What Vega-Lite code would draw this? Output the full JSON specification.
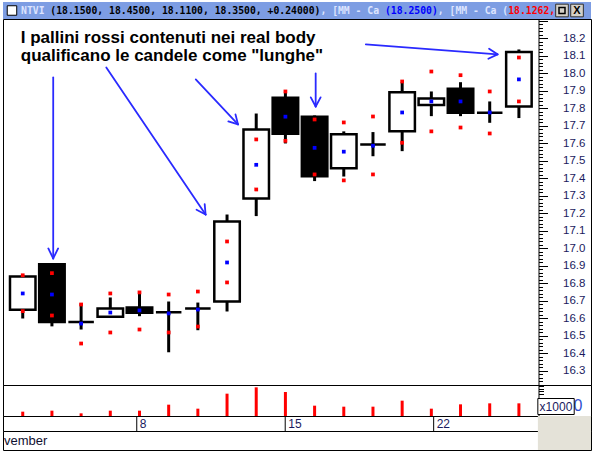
{
  "$schema": "https://vega.github.io/schema/vega-lite/v6.json",
  "background": "white",
  "padding": {"left": 2, "top": 2, "right": 10, "bottom": 15},
  "bounds": "flush",
  "spacing": 0,
  "resolve": {"scale": {"color": "independent"}},
  "config": {"view": {"stroke": "black", "strokeWidth": 1}, "font": "Liberation Sans", "axis": {"grid": false}},
  "datasets": {
    "bars": [
      {"day": 2, "i": 1, "o": 16.65, "h": 16.845, "l": 16.6, "c": 16.84, "up": 16.847, "mid": 16.743, "dn": 16.642, "vol": 130},
      {"day": 3, "i": 2, "o": 16.91, "h": 16.915, "l": 16.555, "c": 16.58, "up": 16.859, "mid": 16.737, "dn": 16.617, "vol": 160},
      {"day": 4, "i": 3, "o": 16.58, "h": 16.686, "l": 16.537, "c": 16.58, "up": 16.68, "mid": 16.571, "dn": 16.457, "vol": 80},
      {"day": 5, "i": 4, "o": 16.61, "h": 16.72, "l": 16.61, "c": 16.657, "up": 16.743, "mid": 16.634, "dn": 16.52, "vol": 160},
      {"day": 8, "i": 5, "o": 16.663, "h": 16.743, "l": 16.613, "c": 16.633, "up": 16.749, "mid": 16.646, "dn": 16.537, "vol": 160},
      {"day": 9, "i": 6, "o": 16.636, "h": 16.697, "l": 16.407, "c": 16.636, "up": 16.737, "mid": 16.629, "dn": 16.52, "vol": 340},
      {"day": 10, "i": 7, "o": 16.657, "h": 16.691, "l": 16.533, "c": 16.657, "up": 16.754, "mid": 16.651, "dn": 16.554, "vol": 220},
      {"day": 11, "i": 8, "o": 16.697, "h": 17.194, "l": 16.64, "c": 17.154, "up": 17.04, "mid": 16.92, "dn": 16.806, "vol": 670},
      {"day": 12, "i": 9, "o": 17.286, "h": 17.771, "l": 17.185, "c": 17.68, "up": 17.623, "mid": 17.478, "dn": 17.337, "vol": 860},
      {"day": 15, "i": 10, "o": 17.861, "h": 17.891, "l": 17.6, "c": 17.655, "up": 17.897, "mid": 17.753, "dn": 17.615, "vol": 720},
      {"day": 16, "i": 11, "o": 17.753, "h": 17.76, "l": 17.385, "c": 17.413, "up": 17.737, "mid": 17.575, "dn": 17.423, "vol": 310},
      {"day": 17, "i": 12, "o": 17.459, "h": 17.669, "l": 17.411, "c": 17.653, "up": 17.72, "mid": 17.553, "dn": 17.389, "vol": 280},
      {"day": 18, "i": 13, "o": 17.594, "h": 17.665, "l": 17.527, "c": 17.594, "up": 17.754, "mid": 17.587, "dn": 17.423, "vol": 280},
      {"day": 19, "i": 14, "o": 17.669, "h": 17.95, "l": 17.556, "c": 17.893, "up": 17.954, "mid": 17.777, "dn": 17.604, "vol": 460},
      {"day": 22, "i": 15, "o": 17.819, "h": 17.897, "l": 17.756, "c": 17.857, "up": 18.011, "mid": 17.84, "dn": 17.669, "vol": 220},
      {"day": 23, "i": 16, "o": 17.913, "h": 17.95, "l": 17.756, "c": 17.775, "up": 17.99, "mid": 17.84, "dn": 17.691, "vol": 350},
      {"day": 24, "i": 17, "o": 17.775, "h": 17.84, "l": 17.718, "c": 17.775, "up": 17.897, "mid": 17.777, "dn": 17.657, "vol": 380},
      {"day": 26, "i": 18, "o": 17.811, "h": 18.137, "l": 17.745, "c": 18.122, "up": 18.091, "mid": 17.966, "dn": 17.84, "vol": 380}
    ],
    "head": [
      {"s": "", "k": "name", "n": 0},
      {"s": "NTVI", "k": "name", "n": 5},
      {"s": "(18.1500, 18.4500, 18.1100, 18.3500, +0.24000)", "k": "val", "n": 46},
      {"s": ", [MM - Ca", "k": "name", "n": 11},
      {"s": "(18.2500)", "k": "ma1", "n": 9},
      {"s": ", [MM - Ca (", "k": "name", "n": 12},
      {"s": "18.1262, 1", "k": "ma2", "n": 10}
    ],
    "arrows": [
      {"a": "A", "i0": 2.044, "p0": 17.977, "i1": 2.044, "p1": 16.943},
      {"a": "A", "i0": 2.044, "p0": 16.943, "i1": 1.876, "p1": 17.0},
      {"a": "A", "i0": 2.044, "p0": 16.943, "i1": 2.2125, "p1": 17.0},
      {"a": "B", "i0": 3.863, "p0": 18.034, "i1": 7.265, "p1": 17.194},
      {"a": "B", "i0": 7.265, "p0": 17.194, "i1": 6.955, "p1": 17.221},
      {"a": "B", "i0": 7.265, "p0": 17.194, "i1": 7.234, "p1": 17.253},
      {"a": "C", "i0": 6.928, "p0": 17.966, "i1": 8.376, "p1": 17.709},
      {"a": "C", "i0": 8.376, "p0": 17.709, "i1": 8.045, "p1": 17.726},
      {"a": "C", "i0": 8.376, "p0": 17.709, "i1": 8.289, "p1": 17.766},
      {"a": "D", "i0": 11.037, "p0": 18.0, "i1": 11.037, "p1": 17.811},
      {"a": "D", "i0": 11.037, "p0": 17.811, "i1": 10.869, "p1": 17.863},
      {"a": "D", "i0": 11.037, "p0": 17.811, "i1": 11.206, "p1": 17.863},
      {"a": "E", "i0": 12.755, "p0": 18.166, "i1": 17.268, "p1": 18.109},
      {"a": "E", "i0": 17.268, "p0": 18.109, "i1": 16.953, "p1": 18.084},
      {"a": "E", "i0": 17.268, "p0": 18.109, "i1": 16.978, "p1": 18.141}
    ]
  },
  "vconcat": [
    {
      "width": 588,
      "height": 17,
      "view": {"fill": "#7d9de3", "stroke": null},
      "layer": [
        {
          "data": {"name": "head"},
          "transform": [{"window": [{"op": "sum", "field": "n", "as": "start"}], "frame": [null, -1]}],
          "mark": {"type": "text", "align": "left", "baseline": "middle", "font": "DejaVu Sans Mono", "fontWeight": "bold", "fontSize": 9.75},
          "encoding": {
            "x": {"field": "start", "type": "quantitative", "scale": {"domain": [-3.07, 97.1], "nice": false, "zero": false}, "axis": null},
            "text": {"field": "s"},
            "color": {"field": "k", "type": "nominal", "scale": {"domain": ["name", "val", "ma1", "ma2"], "range": ["#dce4ff", "#000000", "#0000ff", "#ff0000"]}, "legend": null}
          }
        },
        {
          "data": {"values": [{}]},
          "mark": {"type": "point", "shape": "square", "filled": true, "size": 90, "fill": "white", "stroke": "black", "strokeWidth": 1, "opacity": 1},
          "encoding": {"x": {"datum": -1.54, "type": "quantitative", "scale": {"domain": [-3.07, 97.1], "nice": false, "zero": false}, "axis": null}}
        },
        {
          "data": {"values": [{}]},
          "mark": {"type": "point", "shape": "square", "filled": true, "size": 160, "fill": "#d4d0c8", "stroke": "#303030", "strokeWidth": 1, "opacity": 1},
          "encoding": {"x": {"datum": 92.16, "type": "quantitative", "scale": {"domain": [-3.07, 97.1], "nice": false, "zero": false}, "axis": null}}
        },
        {
          "data": {"values": [{}]},
          "mark": {"type": "point", "shape": "square", "filled": true, "size": 160, "fill": "#d4d0c8", "stroke": "#303030", "strokeWidth": 1, "opacity": 1},
          "encoding": {"x": {"datum": 94.72, "type": "quantitative", "scale": {"domain": [-3.07, 97.1], "nice": false, "zero": false}, "axis": null}}
        },
        {
          "data": {"values": [{}]},
          "mark": {"type": "point", "shape": "square", "filled": false, "size": 36, "stroke": "black", "strokeWidth": 1.5, "opacity": 1},
          "encoding": {"x": {"datum": 92.16, "type": "quantitative", "scale": {"domain": [-3.07, 97.1], "nice": false, "zero": false}, "axis": null}}
        },
        {
          "data": {"values": [{}]},
          "mark": {"type": "text", "text": "X", "fontWeight": "bold", "fontSize": 11, "color": "black", "baseline": "middle", "align": "center"},
          "encoding": {"x": {"datum": 94.72, "type": "quantitative", "scale": {"domain": [-3.07, 97.1], "nice": false, "zero": false}, "axis": null}}
        }
      ]
    },
    {
      "width": 588,
      "height": 366,
      "data": {"name": "bars"},
      "layer": [
        {
          "mark": {"type": "rule", "strokeWidth": 3, "color": "black"},
          "encoding": {
            "x": {"field": "i", "type": "quantitative", "scale": {"domain": [0.495, 20.299], "nice": false, "zero": false}, "axis": null},
            "y": {"field": "l", "type": "quantitative", "scale": {"domain": [16.22, 18.311], "nice": false, "zero": false},
              "axis": {"orient": "right", "offset": -52.5, "title": null, "grid": false, "domainColor": "black", "tickColor": "black", "labelOverlap": false, "labelFlush": false,
                "values": [16.24,16.26,16.28,16.3,16.32,16.34,16.36,16.38,16.4,16.42,16.44,16.46,16.48,16.5,16.52,16.54,16.56,16.58,16.6,16.62,16.64,16.66,16.68,16.7,16.72,16.74,16.76,16.78,16.8,16.82,16.84,16.86,16.88,16.9,16.92,16.94,16.96,16.98,17,17.02,17.04,17.06,17.08,17.1,17.12,17.14,17.16,17.18,17.2,17.22,17.24,17.26,17.28,17.3,17.32,17.34,17.36,17.38,17.4,17.42,17.44,17.46,17.48,17.5,17.52,17.54,17.56,17.58,17.6,17.62,17.64,17.66,17.68,17.7,17.72,17.74,17.76,17.78,17.8,17.82,17.84,17.86,17.88,17.9,17.92,17.94,17.96,17.98,18,18.02,18.04,18.06,18.08,18.1,18.12,18.14,18.16,18.18,18.2,18.22,18.24,18.26,18.28,18.3],
                "labelExpr": "round(datum.value*100) % 10 == 0 && datum.value < 18.25 ? format(datum.value, '.1f') : ''",
                "tickSize": {"condition": {"test": "round(datum.value*100) % 10 == 0", "value": 9}, "value": 4},
                "labelPadding": 15, "labelFont": "Liberation Sans", "labelFontSize": 11.5, "labelColor": "#1a1a5e", "labelBaseline": "middle"}},
            "y2": {"field": "h"}
          }
        },
        {
          "mark": {"type": "bar", "size": 25.5, "stroke": "black", "strokeWidth": 2.5},
          "encoding": {
            "x": {"field": "i", "type": "quantitative", "scale": {"domain": [0.495, 20.299], "nice": false, "zero": false}, "axis": null},
            "y": {"field": "o", "type": "quantitative", "scale": {"domain": [16.22, 18.311], "nice": false, "zero": false},
              "axis": {"orient": "right", "offset": -52.5, "title": null, "grid": false, "domainColor": "black", "tickColor": "black", "labelOverlap": false, "labelFlush": false,
                "values": [16.24,16.26,16.28,16.3,16.32,16.34,16.36,16.38,16.4,16.42,16.44,16.46,16.48,16.5,16.52,16.54,16.56,16.58,16.6,16.62,16.64,16.66,16.68,16.7,16.72,16.74,16.76,16.78,16.8,16.82,16.84,16.86,16.88,16.9,16.92,16.94,16.96,16.98,17,17.02,17.04,17.06,17.08,17.1,17.12,17.14,17.16,17.18,17.2,17.22,17.24,17.26,17.28,17.3,17.32,17.34,17.36,17.38,17.4,17.42,17.44,17.46,17.48,17.5,17.52,17.54,17.56,17.58,17.6,17.62,17.64,17.66,17.68,17.7,17.72,17.74,17.76,17.78,17.8,17.82,17.84,17.86,17.88,17.9,17.92,17.94,17.96,17.98,18,18.02,18.04,18.06,18.08,18.1,18.12,18.14,18.16,18.18,18.2,18.22,18.24,18.26,18.28,18.3],
                "labelExpr": "round(datum.value*100) % 10 == 0 && datum.value < 18.25 ? format(datum.value, '.1f') : ''",
                "tickSize": {"condition": {"test": "round(datum.value*100) % 10 == 0", "value": 9}, "value": 4},
                "labelPadding": 15, "labelFont": "Liberation Sans", "labelFontSize": 11.5, "labelColor": "#1a1a5e", "labelBaseline": "middle"}},
            "y2": {"field": "c"},
            "fill": {"condition": {"test": "datum.c < datum.o", "value": "black"}, "value": "white"}
          }
        },
        {
          "transform": [{"fold": ["up", "mid", "dn"], "as": ["k", "v"]}],
          "mark": {"type": "point", "shape": "square", "filled": true, "size": 14, "opacity": 1},
          "encoding": {
            "x": {"field": "i", "type": "quantitative", "scale": {"domain": [0.495, 20.299], "nice": false, "zero": false}, "axis": null},
            "y": {"field": "v", "type": "quantitative", "scale": {"domain": [16.22, 18.311], "nice": false, "zero": false},
              "axis": {"orient": "right", "offset": -52.5, "title": null, "grid": false, "domainColor": "black", "tickColor": "black", "labelOverlap": false, "labelFlush": false,
                "values": [16.24,16.26,16.28,16.3,16.32,16.34,16.36,16.38,16.4,16.42,16.44,16.46,16.48,16.5,16.52,16.54,16.56,16.58,16.6,16.62,16.64,16.66,16.68,16.7,16.72,16.74,16.76,16.78,16.8,16.82,16.84,16.86,16.88,16.9,16.92,16.94,16.96,16.98,17,17.02,17.04,17.06,17.08,17.1,17.12,17.14,17.16,17.18,17.2,17.22,17.24,17.26,17.28,17.3,17.32,17.34,17.36,17.38,17.4,17.42,17.44,17.46,17.48,17.5,17.52,17.54,17.56,17.58,17.6,17.62,17.64,17.66,17.68,17.7,17.72,17.74,17.76,17.78,17.8,17.82,17.84,17.86,17.88,17.9,17.92,17.94,17.96,17.98,18,18.02,18.04,18.06,18.08,18.1,18.12,18.14,18.16,18.18,18.2,18.22,18.24,18.26,18.28,18.3],
                "labelExpr": "round(datum.value*100) % 10 == 0 && datum.value < 18.25 ? format(datum.value, '.1f') : ''",
                "tickSize": {"condition": {"test": "round(datum.value*100) % 10 == 0", "value": 9}, "value": 4},
                "labelPadding": 15, "labelFont": "Liberation Sans", "labelFontSize": 11.5, "labelColor": "#1a1a5e", "labelBaseline": "middle"}},
            "color": {"field": "k", "type": "nominal", "scale": {"domain": ["up", "mid", "dn"], "range": ["#ff0000", "#0000ff", "#ff0000"]}, "legend": null}
          }
        },
        {
          "data": {"values": [{"t": "I pallini rossi contenuti nei real body"}]},
          "mark": {"type": "text", "align": "left", "baseline": "alphabetic", "fontSize": 17, "fontWeight": "bold", "color": "black"},
          "encoding": {
            "x": {"datum": 0.933, "type": "quantitative", "scale": {"domain": [0.495, 20.299], "nice": false, "zero": false}, "axis": null},
            "y": {"datum": 18.176, "type": "quantitative", "scale": {"domain": [16.22, 18.311], "nice": false, "zero": false},
              "axis": {"orient": "right", "offset": -52.5, "title": null, "grid": false, "domainColor": "black", "tickColor": "black", "labelOverlap": false, "labelFlush": false,
                "values": [16.24,16.26,16.28,16.3,16.32,16.34,16.36,16.38,16.4,16.42,16.44,16.46,16.48,16.5,16.52,16.54,16.56,16.58,16.6,16.62,16.64,16.66,16.68,16.7,16.72,16.74,16.76,16.78,16.8,16.82,16.84,16.86,16.88,16.9,16.92,16.94,16.96,16.98,17,17.02,17.04,17.06,17.08,17.1,17.12,17.14,17.16,17.18,17.2,17.22,17.24,17.26,17.28,17.3,17.32,17.34,17.36,17.38,17.4,17.42,17.44,17.46,17.48,17.5,17.52,17.54,17.56,17.58,17.6,17.62,17.64,17.66,17.68,17.7,17.72,17.74,17.76,17.78,17.8,17.82,17.84,17.86,17.88,17.9,17.92,17.94,17.96,17.98,18,18.02,18.04,18.06,18.08,18.1,18.12,18.14,18.16,18.18,18.2,18.22,18.24,18.26,18.28,18.3],
                "labelExpr": "round(datum.value*100) % 10 == 0 && datum.value < 18.25 ? format(datum.value, '.1f') : ''",
                "tickSize": {"condition": {"test": "round(datum.value*100) % 10 == 0", "value": 9}, "value": 4},
                "labelPadding": 15, "labelFont": "Liberation Sans", "labelFontSize": 11.5, "labelColor": "#1a1a5e", "labelBaseline": "middle"}},
            "text": {"field": "t"}
          }
        },
        {
          "data": {"values": [{"t": "qualificano le candele come \"lunghe\""}]},
          "mark": {"type": "text", "align": "left", "baseline": "alphabetic", "fontSize": 17, "fontWeight": "bold", "color": "black"},
          "encoding": {
            "x": {"datum": 0.933, "type": "quantitative", "scale": {"domain": [0.495, 20.299], "nice": false, "zero": false}, "axis": null},
            "y": {"datum": 18.071, "type": "quantitative", "scale": {"domain": [16.22, 18.311], "nice": false, "zero": false},
              "axis": {"orient": "right", "offset": -52.5, "title": null, "grid": false, "domainColor": "black", "tickColor": "black", "labelOverlap": false, "labelFlush": false,
                "values": [16.24,16.26,16.28,16.3,16.32,16.34,16.36,16.38,16.4,16.42,16.44,16.46,16.48,16.5,16.52,16.54,16.56,16.58,16.6,16.62,16.64,16.66,16.68,16.7,16.72,16.74,16.76,16.78,16.8,16.82,16.84,16.86,16.88,16.9,16.92,16.94,16.96,16.98,17,17.02,17.04,17.06,17.08,17.1,17.12,17.14,17.16,17.18,17.2,17.22,17.24,17.26,17.28,17.3,17.32,17.34,17.36,17.38,17.4,17.42,17.44,17.46,17.48,17.5,17.52,17.54,17.56,17.58,17.6,17.62,17.64,17.66,17.68,17.7,17.72,17.74,17.76,17.78,17.8,17.82,17.84,17.86,17.88,17.9,17.92,17.94,17.96,17.98,18,18.02,18.04,18.06,18.08,18.1,18.12,18.14,18.16,18.18,18.2,18.22,18.24,18.26,18.28,18.3],
                "labelExpr": "round(datum.value*100) % 10 == 0 && datum.value < 18.25 ? format(datum.value, '.1f') : ''",
                "tickSize": {"condition": {"test": "round(datum.value*100) % 10 == 0", "value": 9}, "value": 4},
                "labelPadding": 15, "labelFont": "Liberation Sans", "labelFontSize": 11.5, "labelColor": "#1a1a5e", "labelBaseline": "middle"}},
            "text": {"field": "t"}
          }
        },
        {
          "data": {"name": "arrows"},
          "mark": {"type": "rule", "color": "#2a2aff", "strokeWidth": 1.8, "strokeCap": "round"},
          "encoding": {
            "x": {"field": "i0", "type": "quantitative", "scale": {"domain": [0.495, 20.299], "nice": false, "zero": false}, "axis": null},
            "y": {"field": "p0", "type": "quantitative", "scale": {"domain": [16.22, 18.311], "nice": false, "zero": false},
              "axis": {"orient": "right", "offset": -52.5, "title": null, "grid": false, "domainColor": "black", "tickColor": "black", "labelOverlap": false, "labelFlush": false,
                "values": [16.24,16.26,16.28,16.3,16.32,16.34,16.36,16.38,16.4,16.42,16.44,16.46,16.48,16.5,16.52,16.54,16.56,16.58,16.6,16.62,16.64,16.66,16.68,16.7,16.72,16.74,16.76,16.78,16.8,16.82,16.84,16.86,16.88,16.9,16.92,16.94,16.96,16.98,17,17.02,17.04,17.06,17.08,17.1,17.12,17.14,17.16,17.18,17.2,17.22,17.24,17.26,17.28,17.3,17.32,17.34,17.36,17.38,17.4,17.42,17.44,17.46,17.48,17.5,17.52,17.54,17.56,17.58,17.6,17.62,17.64,17.66,17.68,17.7,17.72,17.74,17.76,17.78,17.8,17.82,17.84,17.86,17.88,17.9,17.92,17.94,17.96,17.98,18,18.02,18.04,18.06,18.08,18.1,18.12,18.14,18.16,18.18,18.2,18.22,18.24,18.26,18.28,18.3],
                "labelExpr": "round(datum.value*100) % 10 == 0 && datum.value < 18.25 ? format(datum.value, '.1f') : ''",
                "tickSize": {"condition": {"test": "round(datum.value*100) % 10 == 0", "value": 9}, "value": 4},
                "labelPadding": 15, "labelFont": "Liberation Sans", "labelFontSize": 11.5, "labelColor": "#1a1a5e", "labelBaseline": "middle"}},
            "x2": {"field": "i1"},
            "y2": {"field": "p1"}
          }
        }
      ]
    },
    {
      "width": 588,
      "height": 31,
      "data": {"name": "bars"},
      "layer": [
        {
          "mark": {"type": "bar", "size": 3, "color": "#ff0000"},
          "encoding": {
            "x": {"field": "i", "type": "quantitative", "scale": {"domain": [0.495, 20.299], "nice": false, "zero": false}, "axis": null},
            "y": {"field": "vol", "type": "quantitative", "scale": {"domain": [0, 930], "nice": false, "zero": false},
              "axis": {"orient": "right", "offset": -52.5, "title": null, "grid": false, "labels": false, "domainColor": "black", "tickColor": "black", "tickSize": 5, "values": [900, 820, 740, 660]}}
          }
        },
        {
          "data": {"values": [{"u": "0", "k": 290}]},
          "mark": {"type": "text", "fontSize": 16, "color": "#3050d0", "align": "center", "baseline": "middle"},
          "encoding": {
            "x": {"datum": 20.02, "type": "quantitative", "scale": {"domain": [0.495, 20.299], "nice": false, "zero": false}, "axis": null},
            "y": {"field": "k", "type": "quantitative", "scale": {"domain": [0, 930], "nice": false, "zero": false},
              "axis": {"orient": "right", "offset": -52.5, "title": null, "grid": false, "labels": false, "domainColor": "black", "tickColor": "black", "tickSize": 5, "values": [900, 820, 740, 660]}},
            "text": {"field": "u"}
          }
        },
        {
          "data": {"values": [{"lo": 45, "hi": 525}]},
          "mark": {"type": "rect", "fill": "white", "stroke": "black", "strokeWidth": 1},
          "encoding": {
            "x": {"datum": 18.649, "type": "quantitative", "scale": {"domain": [0.495, 20.299], "nice": false, "zero": false}, "axis": null},
            "x2": {"datum": 19.895},
            "y": {"field": "hi", "type": "quantitative", "scale": {"domain": [0, 930], "nice": false, "zero": false},
              "axis": {"orient": "right", "offset": -52.5, "title": null, "grid": false, "labels": false, "domainColor": "black", "tickColor": "black", "tickSize": 5, "values": [900, 820, 740, 660]}},
            "y2": {"field": "lo"}
          }
        },
        {
          "data": {"values": [{"u": "x1000", "k": 285}]},
          "mark": {"type": "text", "fontSize": 12, "color": "#1a1a5e", "align": "center", "baseline": "middle"},
          "encoding": {
            "x": {"datum": 19.27, "type": "quantitative", "scale": {"domain": [0.495, 20.299], "nice": false, "zero": false}, "axis": null},
            "y": {"field": "k", "type": "quantitative", "scale": {"domain": [0, 930], "nice": false, "zero": false},
              "axis": {"orient": "right", "offset": -52.5, "title": null, "grid": false, "labels": false, "domainColor": "black", "tickColor": "black", "tickSize": 5, "values": [900, 820, 740, 660]}},
            "text": {"field": "u"}
          }
        }
      ]
    },
    {
      "width": 588,
      "height": 15,
      "layer": [
        {
          "data": {"values": [{}]},
          "mark": {"type": "rect", "color": "#e4e2d8"},
          "encoding": {
            "x": {"datum": 18.51, "type": "quantitative", "scale": {"domain": [0.495, 20.299], "nice": false, "zero": false}, "axis": null},
            "x2": {"datum": 20.299}
          }
        },
        {
          "data": {"name": "bars"},
          "mark": {"type": "rule", "color": "black", "strokeWidth": 1, "opacity": 0},
          "encoding": {
            "x": {"field": "i", "type": "quantitative", "scale": {"domain": [0.495, 20.299], "nice": false, "zero": false},
              "axis": {"orient": "top", "values": [1,2,3,4,5,6,7,8,9,10,11,12,13,14,15,16,17,18], "tickSize": -5, "labels": false, "domain": false, "tickColor": "black", "tickWidth": 1.5, "title": null, "grid": false}}
          }
        },
        {
          "data": {"name": "bars"},
          "transform": [{"filter": "indexof([8, 15, 22], datum.day) >= 0"}],
          "mark": {"type": "rule", "color": "black", "strokeWidth": 1},
          "encoding": {
            "x": {"field": "i", "type": "quantitative", "scale": {"domain": [0.495, 20.299], "nice": false, "zero": false},
              "axis": {"orient": "top", "values": [1,2,3,4,5,6,7,8,9,10,11,12,13,14,15,16,17,18], "tickSize": -5, "labels": false, "domain": false, "tickColor": "black", "tickWidth": 1.5, "title": null, "grid": false}}
          }
        },
        {
          "data": {"name": "bars"},
          "transform": [{"filter": "indexof([8, 15, 22], datum.day) >= 0"}],
          "mark": {"type": "text", "align": "left", "baseline": "middle", "dx": 3, "fontSize": 12, "color": "#1a1a5e"},
          "encoding": {
            "x": {"field": "i", "type": "quantitative", "scale": {"domain": [0.495, 20.299], "nice": false, "zero": false},
              "axis": {"orient": "top", "values": [1,2,3,4,5,6,7,8,9,10,11,12,13,14,15,16,17,18], "tickSize": -5, "labels": false, "domain": false, "tickColor": "black", "tickWidth": 1.5, "title": null, "grid": false}},
            "text": {"field": "day", "type": "nominal"}
          }
        }
      ]
    },
    {
      "width": 588,
      "height": 19,
      "layer": [
        {
          "data": {"values": [{}]},
          "mark": {"type": "rect", "color": "#e4e2d8"},
          "encoding": {
            "x": {"datum": 18.51, "type": "quantitative", "scale": {"domain": [0.495, 20.299], "nice": false, "zero": false}, "axis": null},
            "x2": {"datum": 20.299}
          }
        },
        {
          "data": {"values": [{}]},
          "mark": {"type": "text", "text": "vember", "align": "left", "baseline": "middle", "fontSize": 13, "color": "#101030"},
          "encoding": {
            "x": {"datum": 0.528, "type": "quantitative", "scale": {"domain": [0.495, 20.299], "nice": false, "zero": false}, "axis": null}
          }
        }
      ]
    }
  ]
}
